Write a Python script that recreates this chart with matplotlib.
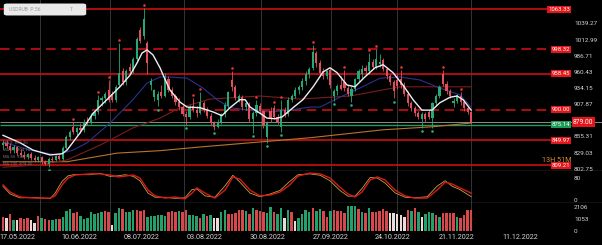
import matplotlib

matplotlib.use("Agg")
import matplotlib.pyplot as plt
from matplotlib.patches import FancyBboxPatch

plt.rcParams["font.family"] = ["Roboto", "DejaVu Sans"]

# ── Daily candles ────────────────────────────────────────────────────────
opens = [842, 846, 840, 834, 839, 829, 826, 823, 828, 821,
         817, 822, 815, 812, 819, 817, 824, 820, 838, 856,
         872, 864, 870, 866, 880, 878, 890, 896, 915, 918,
         932, 926, 916, 940, 962, 944, 970, 962, 982, 1030,
         1020, 1008, 940, 921, 915, 928, 922, 950, 932, 922,
         912, 904, 893, 888, 906, 900, 894, 910, 900, 890,
         878, 872, 880, 892, 906, 948, 936, 916, 920, 904,
         908, 884, 895, 906, 898, 856, 898, 902, 888, 872,
         900, 893, 916, 922, 932, 936, 946, 958, 968, 992,
         975, 962, 955, 964, 922, 930, 940, 945, 935, 922,
         934, 950, 958, 968, 962, 978, 970, 974, 980, 966,
         954, 944, 948, 950, 940, 926, 910, 902, 895, 884,
         892, 896, 886, 910, 922, 958, 942, 930, 910, 914,
         922, 912, 902, 896]
highs = [850, 851, 845, 842, 841, 835, 832, 830, 831, 826,
         824, 824, 818, 822, 824, 826, 827, 840, 858, 866,
         880, 872, 878, 884, 888, 894, 900, 924, 922, 928,
         948, 930, 940, 1008, 968, 966, 976, 985, 1018, 1034,
         1065, 1012, 952, 934, 930, 940, 960, 954, 936, 926,
         918, 908, 898, 908, 918, 905, 928, 914, 904, 894,
         882, 884, 895, 912, 930, 962, 940, 926, 924, 912,
         912, 898, 916, 910, 900, 882, 904, 907, 892, 916,
         904, 920, 926, 936, 940, 952, 962, 970, 1005, 996,
         980, 968, 964, 968, 934, 942, 954, 964, 940, 938,
         952, 966, 972, 972, 992, 982, 998, 990, 984, 970,
         958, 948, 958, 964, 944, 930, 914, 905, 898, 896,
         896, 900, 912, 926, 940, 964, 946, 934, 918, 926,
         928, 916, 906, 898]
lows = [836, 838, 830, 830, 826, 822, 820, 819, 818, 814,
        815, 812, 809, 806, 815, 816, 818, 818, 836, 850,
        860, 858, 862, 864, 874, 876, 884, 893, 906, 910,
        912, 912, 912, 936, 940, 940, 958, 960, 978, 1008,
        1015, 958, 932, 914, 905, 918, 920, 928, 918, 908,
        900, 890, 875, 884, 896, 888, 892, 896, 886, 874,
        866, 870, 876, 888, 902, 930, 915, 912, 900, 900,
        880, 862, 890, 895, 870, 846, 880, 884, 876, 864,
        888, 890, 912, 918, 926, 932, 940, 952, 964, 970,
        955, 950, 950, 935, 914, 924, 932, 930, 922, 912,
        930, 946, 952, 956, 958, 966, 966, 970, 962, 950,
        940, 918, 934, 935, 922, 906, 898, 890, 884, 870,
        880, 884, 870, 906, 918, 938, 926, 918, 904, 910,
        908, 898, 892, 876]
closes = [846, 840, 834, 839, 829, 826, 823, 828, 821, 817,
          822, 815, 812, 819, 817, 824, 820, 838, 855, 864,
          864, 870, 866, 880, 878, 890, 896, 915, 918, 925,
          915, 916, 936, 960, 944, 962, 962, 982, 1014, 1012,
          1048, 975, 946, 931, 926, 922, 952, 932, 922, 912,
          904, 893, 888, 904, 900, 894, 912, 900, 890, 878,
          872, 880, 892, 908, 928, 936, 918, 922, 904, 910,
          884, 895, 908, 898, 874, 878, 884, 888, 880, 899,
          893, 916, 922, 932, 936, 946, 958, 966, 994, 975,
          960, 955, 962, 940, 930, 938, 934, 935, 926, 934,
          950, 962, 966, 962, 978, 970, 982, 978, 966, 954,
          944, 930, 938, 940, 926, 910, 902, 895, 888, 892,
          884, 888, 910, 922, 936, 942, 930, 922, 914, 924,
          912, 902, 896, 879]

fractal_up = [20, 27, 30, 33, 40, 54, 56, 65, 72, 77, 79, 88, 97, 104, 106, 113, 125, 130]
fractal_down = [13, 44, 52, 60, 71, 75, 79, 94, 99, 111, 119, 122]

# ── Moving averages, sampled at candle index ─────────────────────────────
ma_fast_i = [0, 4.8, 8.5, 13.4, 16.8, 18.2, 21.9, 25.6, 29.5, 33.2, 36.1, 38.1, 39.5, 40.9,
             42.6, 44.6, 45.5, 47.4, 50.3, 52.3, 56, 59.7, 62.2, 64.5, 67.3, 68.8, 70.2, 73,
             75, 77.3, 79.3, 82.4, 85.2, 88.1, 90.9, 92.9, 94.9, 97.7, 100, 102.8, 105.7, 108,
             110.8, 113.6, 116.5, 119, 121.9, 124.1, 127, 129, 130.7, 133]
ma_fast_v = [858, 846, 834, 826, 828, 834, 862, 894, 916, 937, 956, 976, 992, 997,
             989, 968, 956, 932, 912, 904, 903, 896, 890, 903, 916, 916, 904, 894,
             886, 885, 888, 903, 916, 937, 961, 968, 960, 940, 937, 953, 968, 973,
             960, 940, 916, 899, 899, 911, 920, 922, 916, 899]
ma_mid_i = [0, 7.7, 15.3, 19.9, 23.9, 30.4, 36.9, 40.9, 44.6, 47.4, 52.3, 56.8, 60.8, 64.5,
            70.2, 75.9, 81.5, 87.2, 90.1, 95.7, 101.4, 107.1, 112.8, 118.5, 124.1, 129.8, 133]
ma_mid_v = [847, 834, 826, 834, 846, 878, 916, 943, 953, 953, 951, 935, 916, 903,
            899, 896, 899, 904, 904, 920, 935, 951, 953, 948, 935, 924, 904]
ma_slow_i = [0, 10.5, 18.2, 27.6, 36.9, 44.6, 50.3, 58.8, 73, 84.4, 98.6, 108, 112.8, 133]
ma_slow_v = [806, 810, 818, 842, 870, 886, 903, 917, 922, 917, 922, 932, 937, 937]
ma_long_i = [0, 18.2, 32.4, 44.6, 56, 87.2, 108, 122.2, 133]
ma_long_v = [815, 815, 829, 833, 839, 854, 867, 872, 878]

# ── Stochastic (%K red, %D yellow) ───────────────────────────────────────
stoch_i = [0, 2, 4.8, 9.1, 13.4, 14.8, 16.8, 18.5, 20.5, 24.7, 27.6, 30.4, 32.7, 34.7, 37,
           38.9, 41.2, 43.2, 46, 48.9, 51.7, 53.7, 55.1, 57.4, 60.2, 63.1, 65.3, 67.3, 70.2,
           73, 75.9, 78.7, 81.5, 83.8, 87.2, 90.1, 92.9, 95.7, 98, 100, 102, 104.3, 106.3,
           108.5, 111.4, 114.2, 117, 120.5, 123.3, 125.6, 127.6, 129.8, 133]
stoch_k = [55, 29, 11, 7, 7, 15, 55, 80, 91, 95, 95, 91, 84, 87, 91,
           80, 36, 15, 7, 11, 4, 25, 44, 25, 7, 36, 84, 76, 36,
           15, 18, 29, 55, 87, 98, 95, 80, 47, 22, 11, 29, 73, 84,
           73, 36, 15, 7, 7, 36, 65, 58, 44, 25]
stoch_d = [50, 22, 8, 9, 5, 25, 68, 88, 93, 92, 97, 86, 88, 92, 86,
           70, 25, 10, 10, 6, 8, 38, 40, 15, 10, 52, 90, 65, 25,
           12, 22, 35, 68, 92, 95, 90, 70, 35, 14, 14, 42, 82, 80,
           62, 26, 10, 8, 12, 50, 70, 50, 38, 12]

# ── Volume ───────────────────────────────────────────────────────────────
volumes = [1256, 1111, 1463, 965, 965, 1170, 1053, 1111, 965, 673,
           1345, 1111, 1053, 965, 965, 1053, 1053, 1256, 1755, 1930,
           1550, 1638, 1345, 1053, 1111, 1697, 1463, 1550, 1697,
           1755, 1697, 527, 1550, 2048, 1930, 1697, 1638, 1843, 1843,
           1755, 1843, 1256, 1345, 1345, 1404, 1404, 1345, 1697, 1755,
           1638, 1755, 1697, 1843, 1404, 1404, 1345, 1170, 1463, 1345,
           1404, 1111, 1170, 1638, 1843, 1463, 1521, 1550,
           1843, 1843, 1755, 1463, 1989, 1843, 1755, 1697, 1550, 2135,
           1697, 1463, 2048, 1170, 1843, 1638, 878, 1111, 1463,
           1843, 1697, 2048, 1755, 1930, 1755, 1258, 1755, 1843, 1755,
           1755, 1550, 2223, 2223, 2223, 1930, 1697, 1550, 1989, 1638,
           1638, 1755, 1930, 1755, 1550, 1550, 1463, 1404, 1258, 1843,
           1755, 1989, 1638, 1258, 1463, 1638, 1550, 1404, 1258, 1550,
           1550, 1550, 1550, 1258, 1170, 1404, 1843, 1843]
vol_kind = ("rwrgwrrrww" "rgrrggrggg" "rrggggggg" "rrwggrgggr" "rrggggggrr" "rgrrgggrgr" "gwwggrrr"
            "rrgrgrrrgg" "rggwgrwgg" "ggrggrrgrr" "rrgggrgrgr" "rrrrwwwwwr" "grgwgggrgr" "rrrgrrrr")

# ── Levels and axis texts ────────────────────────────────────────────────
levels = [1063.33, 998.32, 958.45, 900.00, 849.97, 809.21]
level_dashed = [False, True, False, True, False, False]
support_level = 875.14
last_price = 879.00
price_ticks = [1039.27, 1012.99, 986.71, 960.43, 934.15, 907.87, 855.31, 829.03, 802.75]
stoch_ticks = [80, 0]
vol_ticks = [2106, 1053, 0]
date_labels = ["17.05.2022", "10.06.2022", "08.07.2022", "03.08.2022", "30.08.2022",
               "27.09.2022", "24.10.2022", "21.11.2022", "11.12.2022"]

# ── Style ────────────────────────────────────────────────────────────────
BG = "#000000"
UP = "#26a877"
DOWN = "#e0505a"
LEVEL = "#d40f12"
GREEN_LVL = "#1f9b5c"
GRID = "#3c3c3c"
SEP = "#8c8c8c"
AXIS_TXT = "#d6d6d6"
VOL_COL = {"g": "#23a06c", "r": "#d8484b", "w": "#eadada"}

W, H = 602, 245
STEP, X0 = 3.52, 3.0


def px2i(px):
    return (px - X0) / STEP


fig = plt.figure(figsize=(W / 100, H / 100), dpi=100, facecolor=BG)


def px_axes(top, bottom):
    return fig.add_axes([0, 1 - bottom / H, 1, (bottom - top) / H])


ax = px_axes(0, 171)
ax_st = px_axes(171, 203)
ax_v = px_axes(203, 231)
XMIN, XMAX = px2i(0), px2i(W)
for a in (ax, ax_st, ax_v):
    a.set_facecolor(BG)
    a.set_xlim(XMIN, XMAX)
    for s in a.spines.values():
        s.set_visible(False)
    a.tick_params(length=0, labelleft=False, labelbottom=False)
    for gx in (10.5, 30.4, 51.4, 73.3, 93.2, 111.9, 133):
        a.axvline(gx, color=GRID, lw=0.6, zorder=0)
ax.set_ylim(799.9, 1078.3)
ax_st.set_ylim(-10.9, 105.5)
ax_v.set_ylim(0, 2457)

LINE_END = px2i(571)
LABEL_X = px2i(574)

# levels
for lv, dashed in zip(levels, level_dashed):
    ax.hlines(lv, XMIN, LINE_END, color=LEVEL, lw=1.15, zorder=1,
              linestyles=(0, (6, 3.6)) if dashed else "solid")
    ax.text(LINE_END - 0.2, lv, f"{lv:.2f}", ha="right", va="center", fontsize=4.3,
            color="white", zorder=6,
            bbox=dict(boxstyle="square,pad=0.18", fc="#e3151b", ec="none"))
ax.hlines(support_level, XMIN, LINE_END, color=GREEN_LVL, lw=1.0, zorder=1)
ax.text(LINE_END - 0.2, support_level, f"{support_level:.2f}", ha="right", va="center",
        fontsize=4.3, color="white", zorder=6,
        bbox=dict(boxstyle="square,pad=0.18", fc="#1c9a58", ec="none"))
ax.hlines(last_price, XMIN, XMAX, color="#a0a0a0", lw=0.6, zorder=1)
ax.text(px2i(573), last_price, f"{last_price:.2f}", ha="left", va="center", fontsize=4.8,
        color="white", zorder=6,
        bbox=dict(boxstyle="square,pad=0.22", fc="#e3151b", ec="none"))
ax.text(LINE_END, 817.5, "13H 51M", ha="right", va="center", fontsize=5.2,
        color="#d4902a", zorder=6)
for p in price_ticks:
    ax.text(LABEL_X, p, f"{p:.2f}", ha="left", va="center", fontsize=4.6, color=AXIS_TXT)

# moving averages
ax.plot(ma_long_i, ma_long_v, color="#b8742c", lw=0.8, zorder=2)
ax.plot(ma_slow_i, ma_slow_v, color="#7c1c1c", lw=0.8, zorder=2)
ax.plot(ma_mid_i, ma_mid_v, color="#2b3190", lw=0.8, zorder=2)

# candles
x = list(range(len(closes)))
cols = [UP if c >= o else DOWN for o, c in zip(opens, closes)]
ax.vlines(x, lows, highs, colors=cols, lw=0.6, zorder=3)
ax.bar(x, [max(abs(c - o), 1.0) for o, c in zip(opens, closes)],
       bottom=[min(o, c) for o, c in zip(opens, closes)],
       width=0.62, color=cols, lw=0, zorder=3)
ax.plot(ma_fast_i, ma_fast_v, color="#ececf4", lw=1.0, zorder=4)
ax.scatter(fractal_up, [highs[i] + 5 for i in fractal_up], s=3.5, color="#e8323c",
           lw=0, zorder=5)
ax.scatter(fractal_down, [lows[i] - 5 for i in fractal_down], s=3.5, color="#27b07c",
           lw=0, zorder=5)

# separators
ax.axhline(799.9, color=SEP, lw=0.9, zorder=5)
ax_st.axhline(-10.9, color=SEP, lw=0.9, zorder=5)

# stochastic
ax_st.plot(stoch_i, stoch_d, color="#c9a23a", lw=0.6)
ax_st.plot(stoch_i, stoch_k, color="#d81a1a", lw=1.0)
for t in stoch_ticks:
    ax_st.text(LABEL_X, t, str(t), ha="left", va="center", fontsize=4.6, color=AXIS_TXT)

# volume
ax_v.bar(x, volumes, width=0.7, color=[VOL_COL[k] for k in vol_kind], lw=0)
for t in vol_ticks:
    ax_v.text(LABEL_X, t, str(t), ha="left", va="center", fontsize=4.6, color=AXIS_TXT)
ax_v.set_xticks([px2i(p) for p in (17, 79, 142, 205, 268, 331, 393, 457, 520)])
ax_v.set_xticklabels(date_labels)
ax_v.tick_params(labelbottom=True, labelsize=5.2, labelcolor=AXIS_TXT, pad=2)

# symbol box and indicator legend (top-left / lower-left)
fig.patches.append(FancyBboxPatch((5 / W, 1 - 15 / H), 80 / W, 11 / H,
                                  boxstyle="round,pad=0.002,rounding_size=0.006",
                                  transform=fig.transFigure, fc="#e9e9e9", ec="none"))
fig.text(9 / W, 1 - 9.5 / H, "USDRUB  P.56", fontsize=3.6, color="#9a9a9a", va="center")
fig.text(70 / W, 1 - 9.5 / H, "1'", fontsize=3.6, color="#9a9a9a", va="center")
for k, line in enumerate(["MA 9  899.20", "MA 21  904.10", "MA 50  936.70", "MA 200  878.00"]):
    fig.text(3 / W, 1 - (143 + 7 * k) / H, line, fontsize=3.0, color="#7a7a7a", va="center")

fig.savefig("out.png", dpi=100, facecolor=BG)
